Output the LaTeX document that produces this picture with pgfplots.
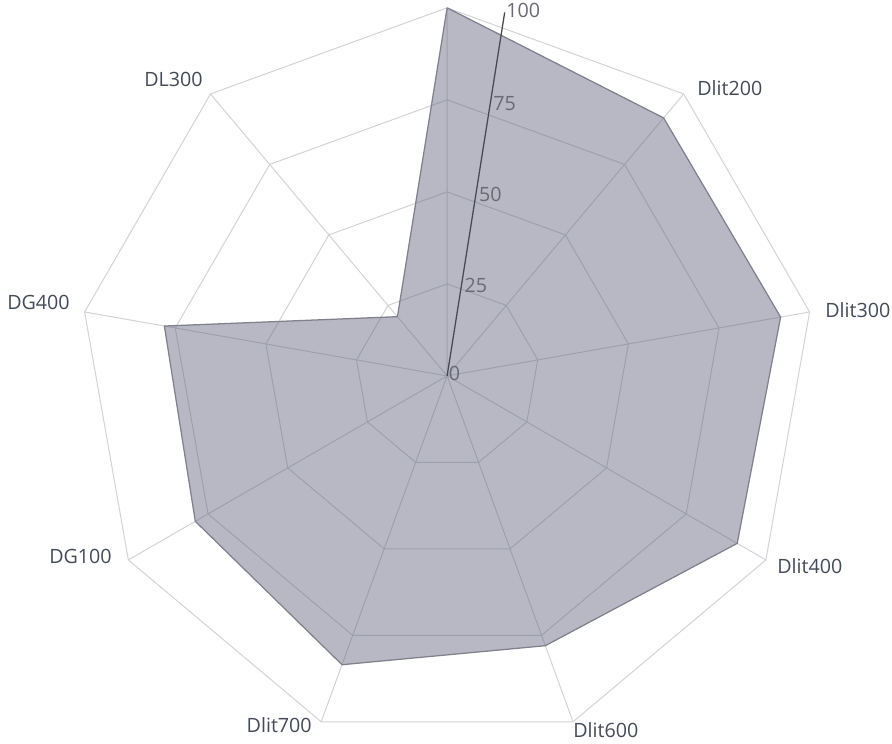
\documentclass[border=0pt]{standalone}
\usepackage{pgfplots}
\pgfplotsset{compat=1.18}
\usepackage{fontspec}
\setmainfont{Open Sans}
\definecolor{gridc}{RGB}{210,210,216}
\definecolor{fillc}{RGB}{95,98,122}
\definecolor{edgec}{RGB}{128,129,140}
\definecolor{txt}{RGB}{68,74,86}
\definecolor{tickc}{RGB}{105,106,116}
\definecolor{axc}{RGB}{70,72,82}
\begin{document}
\begin{tikzpicture}[x=0.025cm,y=0.025cm]
\useasboundingbox (0,0) rectangle (892,743);
\begin{axis}[
  at={(11.175cm,9.175cm)}, anchor=origin,
  x=0.092cm, y=0.092cm,
  hide axis,
  xmin=-130, xmax=130, ymin=-130, ymax=130,
  clip=false,
  every axis plot/.append style={data cs=polar},
]
% grid polygons
\addplot[gridc, line width=0.7pt] coordinates {(90,25)(50,25)(10,25)(-30,25)(-70,25)(-110,25)(-150,25)(170,25)(130,25)(90,25)};
\addplot[gridc, line width=0.7pt] coordinates {(90,50)(50,50)(10,50)(-30,50)(-70,50)(-110,50)(-150,50)(170,50)(130,50)(90,50)};
\addplot[gridc, line width=0.7pt] coordinates {(90,75)(50,75)(10,75)(-30,75)(-70,75)(-110,75)(-150,75)(170,75)(130,75)(90,75)};
\addplot[gridc, line width=0.7pt] coordinates {(90,100)(50,100)(10,100)(-30,100)(-70,100)(-110,100)(-150,100)(170,100)(130,100)(90,100)};
% spokes
\addplot[gridc, line width=0.7pt] coordinates {(90,0)(90,100)(50,0)(50,100)(10,0)(10,100)(-30,0)(-30,100)(-70,0)(-70,100)(-110,0)(-110,100)(-150,0)(-150,100)(170,0)(170,100)(130,0)(130,100)};
% data
\addplot[draw=edgec, fill=fillc, fill opacity=0.45, line width=0.9pt] coordinates {(90,100)(50,91.5)(10,92)(-30,91)(-70,78)(-110,83.5)(-150,79)(170,78)(130,21)(90,100)};
% radial axis
\addplot[axc, line width=0.9pt] coordinates {(81,0)(81,100)};
\node[anchor=west, inner sep=0pt, text=tickc, font=\fontsize{14}{16}\selectfont, xshift=1pt, yshift=2pt] at (axis cs:0,0) {0};
\node[anchor=west, inner sep=0pt, text=tickc, font=\fontsize{14}{16}\selectfont, xshift=2pt] at (axis cs:{25*cos(81)},{25*sin(81)}) {25};
\node[anchor=west, inner sep=0pt, text=tickc, font=\fontsize{14}{16}\selectfont, xshift=2pt] at (axis cs:{50*cos(81)},{50*sin(81)}) {50};
\node[anchor=west, inner sep=0pt, text=tickc, font=\fontsize{14}{16}\selectfont, xshift=2pt] at (axis cs:{75*cos(81)},{75*sin(81)}) {75};
\node[anchor=west, inner sep=0pt, text=tickc, font=\fontsize{14}{16}\selectfont, xshift=1pt, yshift=1pt] at (axis cs:{100*cos(81)},{100*sin(81)}) {100};
\end{axis}
\begin{scope}[every node/.style={inner sep=0pt, text=txt, font=\fontsize{14}{16}\selectfont}]
\node[anchor=west] at (697,655) {Dlit200};
\node[anchor=west] at (825,433) {Dlit300};
\node[anchor=west] at (777,177) {Dlit400};
\node[anchor=west] at (573,13) {Dlit600};
\node[anchor=east] at (312,18) {Dlit700};
\node[anchor=east] at (112,187) {DG100};
\node[anchor=east] at (70,441) {DG400};
\node[anchor=east] at (203,664) {DL300};
\end{scope}
\end{tikzpicture}
\end{document}
